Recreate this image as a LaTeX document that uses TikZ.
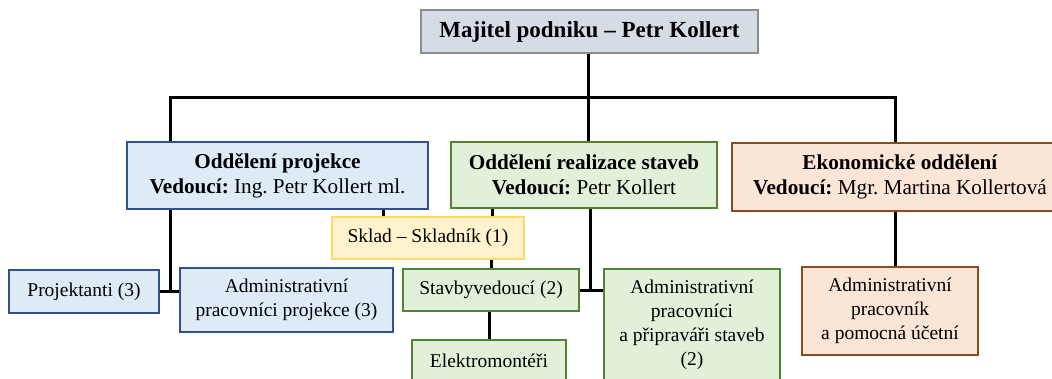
\documentclass[tikz,border=0pt]{standalone}
\usepackage{fontspec}
\setmainfont{Liberation Serif}
\usepackage{xcolor}
\definecolor{ownfill}{HTML}{D6DCE5}
\definecolor{owndraw}{HTML}{8C8C8C}
\definecolor{bluefill}{HTML}{DEEBF7}
\definecolor{bluedraw}{HTML}{2F528F}
\definecolor{greenfill}{HTML}{E2F0D9}
\definecolor{greendraw}{HTML}{548235}
\definecolor{orangefill}{HTML}{FBE5D6}
\definecolor{orangedraw}{HTML}{8E4A1C}
\definecolor{yellowfill}{HTML}{FFF2CC}
\definecolor{yellowdraw}{HTML}{FFD966}
\frenchspacing

\begin{document}
\begin{tikzpicture}[x=1pt,y=-1pt,
  box/.style={draw,line width=1.8pt,inner sep=0pt,align=center,
    font=\fontsize{19.5}{24}\selectfont},
  head/.style={box,font=\fontsize{21.2}{25}\selectfont},
  ownbox/.style={box,fill=ownfill,draw=owndraw},
  bluebox/.style={fill=bluefill,draw=bluedraw},
  greenbox/.style={fill=greenfill,draw=greendraw},
  orangebox/.style={fill=orangefill,draw=orangedraw},
  yellowbox/.style={fill=yellowfill,draw=yellowdraw},
  conn/.style={line width=3pt}]

\clip (0,0) rectangle (1052,378);
\fill[white] (0,0) rectangle (1052,378);

% owner
\node[ownbox,minimum width=337pt,minimum height=43pt,
  font=\fontsize{23}{24}\selectfont\bfseries] (owner) at (589.5,31.5)
  {Majitel podniku -- Petr Kollert};

% departments
\node[head,bluebox,minimum width=301pt,minimum height=67pt] (projekce) at (277.5,175.5)
  {\textbf{Oddělení projekce}\\\textbf{Vedoucí:} Ing. Petr Kollert ml.};
\node[head,greenbox,minimum width=266pt,minimum height=66pt] (realizace) at (584,175)
  {\textbf{Oddělení realizace staveb}\\\textbf{Vedoucí:} Petr Kollert};
\node[head,orangebox,minimum width=336pt,minimum height=68pt] (ekonom) at (900,177)
  {\textbf{Ekonomické oddělení}\\\textbf{Vedoucí:} Mgr. Martina Kollertová};

% store
\node[box,yellowbox,minimum width=192pt,minimum height=42pt] (sklad) at (428,238)
  {Sklad -- Skladník (1)};

% staff
\node[box,bluebox,minimum width=150pt,minimum height=43pt] (projektanti) at (84,291.5)
  {Projektanti (3)};
\node[box,bluebox,minimum width=213pt,minimum height=64pt] (adminproj) at (286.5,300)
  {Administrativní\\pracovníci projekce (3)};
\node[box,greenbox,minimum width=176pt,minimum height=42pt] (stavby) at (491,290)
  {Stavbyvedoucí (2)};
\node[box,greenbox,minimum width=176pt,minimum height=112pt] (adminreal) at (692,325)
  {Administrativní\\pracovníci\\a připraváři staveb\\(2)};
\node[box,greenbox,minimum width=154pt,minimum height=42pt] (elektro) at (489,361)
  {Elektromontéři};
\node[box,orangebox,minimum width=176pt,minimum height=88pt] (adminekon) at (890,311)
  {Administrativní\\pracovník\\a pomocná účetní};

% helper columns
\coordinate (bar) at (588,97);
\coordinate (colP) at (170,0);
\coordinate (colE) at (895,0);
\coordinate (colS1) at (383,0);
\coordinate (colS2) at (492,0);
\coordinate (colR) at (590,0);

% top level
\draw[conn] (owner.south -| bar) -- (realizace.north -| bar);
\draw[conn] (projekce.north -| colP) |- (bar) -| (ekonom.north -| colE);

% projekce
\draw[conn] (projekce.south -| colP) -- (projektanti.east -| colP);
\draw[conn] (projektanti.east) -- (projektanti.east -| adminproj.west);
\draw[conn] (projekce.south -| colS1) -- (sklad.north -| colS1);

% realizace
\draw[conn] (realizace.south -| colS2) -- (sklad.north -| colS2);
\draw[conn] (sklad.south -| stavby.north) -- (stavby.north);
\draw[conn] (realizace.south -| colR) -- (stavby.east -| colR);
\draw[conn] (stavby.east) -- (stavby.east -| adminreal.west);
\draw[conn] (stavby.south -| elektro.north) -- (elektro.north);

% ekonom
\draw[conn] (ekonom.south -| colE) -- (adminekon.north -| colE);

\end{tikzpicture}
\end{document}
